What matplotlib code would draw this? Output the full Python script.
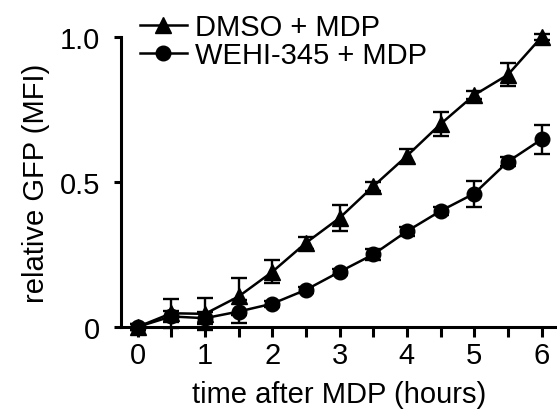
import matplotlib
matplotlib.use("Agg")
import matplotlib.pyplot as plt
from matplotlib.lines import Line2D

plt.rcParams['font.family'] = ['Liberation Sans', 'DejaVu Sans']

# tempo (horas) e GFP relativo (MFI)
tempo = [0, 0.5, 1, 1.5, 2, 2.5, 3, 3.5, 4, 4.5, 5, 5.5, 6]
dmso = [0, 0.047, 0.045, 0.105, 0.19, 0.29, 0.376, 0.485, 0.59, 0.70, 0.80, 0.87, 1.0]
dmso_err = [0.01, 0.05, 0.055, 0.065, 0.04, 0.02, 0.045, 0.015, 0.025, 0.04, 0.015, 0.04, 0.01]
wehi = [0, 0.036, 0.03, 0.053, 0.08, 0.128, 0.19, 0.25, 0.33, 0.40, 0.46, 0.57, 0.647]
wehi_err = [0.01, 0.02, 0.02, 0.04, 0.01, 0.01, 0.01, 0.02, 0.015, 0.015, 0.045, 0.015, 0.05]
rotulos = ['DMSO + MDP', 'WEHI-345 + MDP']

fig = plt.figure(figsize=(5.57, 4.14), dpi=100)
ax = fig.add_axes([0.217, 0.208, 0.783, 0.700])

ax.errorbar(tempo, dmso, yerr=dmso_err, color='black', marker='^', markersize=11.5,
            linewidth=1.8, capsize=5.5, elinewidth=1.7, capthick=1.7,
            clip_on=False, zorder=3)
ax.errorbar(tempo, wehi, yerr=wehi_err, color='black', marker='o', markersize=10.5,
            linewidth=1.8, capsize=5.5, elinewidth=1.7, capthick=1.7,
            clip_on=False, zorder=3)

ax.set_xlim(-0.25, 6.23)
ax.set_ylim(0, 1.0)
ax.set_yticks([0, 0.5, 1.0])
ax.set_yticklabels(['0', '0.5', '1.0'])
ax.set_xticks([0, 1, 2, 3, 4, 5, 6])
ax.set_xticks([0.5, 1.5, 2.5, 3.5, 4.5, 5.5], minor=True)

for s in ['top', 'right']:
    ax.spines[s].set_visible(False)
for s in ['left', 'bottom']:
    ax.spines[s].set_linewidth(2.2)

ax.tick_params(axis='both', which='both', direction='out', width=2.2, labelsize=21)
ax.tick_params(axis='x', which='both', length=7, pad=3)
ax.tick_params(axis='y', length=5, pad=10)

ax.set_xlabel('time after MDP (hours)', fontsize=21, labelpad=8)
ax.set_ylabel('relative GFP (MFI)', fontsize=21, labelpad=7)

alcas = [Line2D([], [], color='black', marker='^', markersize=11.5, linewidth=1.8),
         Line2D([], [], color='black', marker='o', markersize=10.5, linewidth=1.8)]
ax.legend(alcas, rotulos, loc='upper left', bbox_to_anchor=(0.22, 1.008),
          bbox_transform=fig.transFigure, frameon=False, fontsize=21,
          handlelength=1.6, handletextpad=0.3, labelspacing=0.0, borderpad=0.1)

fig.savefig('out.png', dpi=100)
